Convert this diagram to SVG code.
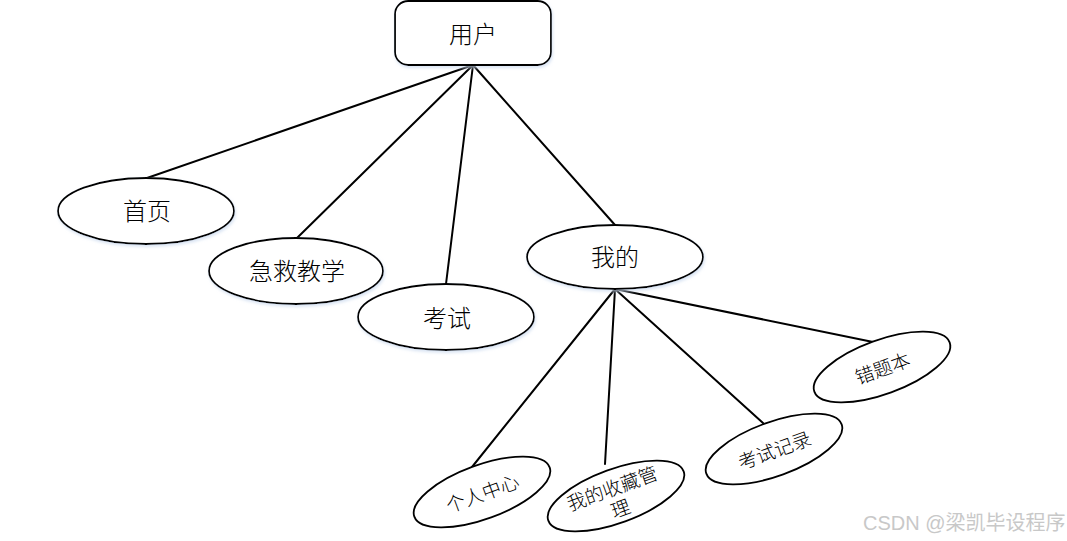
<svg xmlns="http://www.w3.org/2000/svg" width="1067" height="541" viewBox="0 0 1067 541">
<style>
.shape{fill:#fff;stroke:#000;stroke-width:1.8}
.conn line{stroke:#000;stroke-width:2;stroke-linecap:round}
.t{font-family:"Noto Sans CJK SC","Noto Sans",sans-serif;fill:#000;text-anchor:middle;dominant-baseline:central;font-weight:300}
.big{font-size:24px}
.small{font-size:19px}
.wm{font-family:"Liberation Sans","Noto Sans CJK SC",sans-serif;font-size:20px;fill:#c8c8c8}
</style>
<defs>
<filter id="glow" x="-10%" y="-20%" width="120%" height="140%">
<feDropShadow dx="1" dy="2" stdDeviation="1.5" flood-color="#c9d9ee" flood-opacity="0.7"/>
</filter>
</defs>
<rect width="1067" height="541" fill="#fff"/>
<g class="conn" id="connectors">
<line x1="473" y1="65" x2="147" y2="178"/>
<line x1="473" y1="65" x2="297" y2="238"/>
<line x1="473" y1="65" x2="446" y2="284"/>
<line x1="473" y1="65" x2="615" y2="225"/>
<line x1="615" y1="289" x2="472" y2="467"/>
<line x1="615" y1="289" x2="605" y2="464"/>
<line x1="615" y1="289" x2="763" y2="423"/>
<line x1="615" y1="289" x2="873" y2="342"/>
</g>
<g id="n-user">
<rect class="shape" filter="url(#glow)" x="395" y="1" width="156" height="64" rx="13"/>
<text class="t big" x="473" y="32">用户</text>
</g>
<g id="n-home">
<ellipse class="shape" filter="url(#glow)" cx="146" cy="211" rx="88" ry="33"/>
<text class="t big" x="147" y="209">首页</text>
</g>
<g id="n-teach">
<ellipse class="shape" filter="url(#glow)" cx="296" cy="271" rx="87" ry="33"/>
<text class="t big" x="297" y="269">急救教学</text>
</g>
<g id="n-exam">
<ellipse class="shape" filter="url(#glow)" cx="446" cy="317" rx="88" ry="33"/>
<text class="t big" x="447" y="316">考试</text>
</g>
<g id="n-mine">
<ellipse class="shape" filter="url(#glow)" cx="615" cy="257" rx="88" ry="32"/>
<text class="t big" x="615" y="255">我的</text>
</g>
<g id="n-center" transform="translate(482,492) rotate(-20)">
<ellipse class="shape" cx="0" cy="0" rx="72" ry="27"/>
<text class="t small" x="0" y="0">个人中心</text>
</g>
<g id="n-fav" transform="translate(616,496) rotate(-20)">
<ellipse class="shape" cx="0" cy="0" rx="72" ry="27"/>
<text class="t small" x="-1" y="-10">我的收藏管</text>
<text class="t small" x="0" y="12">理</text>
</g>
<g id="n-record" transform="translate(774,449) rotate(-20)">
<ellipse class="shape" cx="0" cy="0" rx="72" ry="27"/>
<text class="t small" x="0" y="0">考试记录</text>
</g>
<g id="n-wrong" transform="translate(882,367) rotate(-20)">
<ellipse class="shape" cx="0" cy="0" rx="72" ry="27"/>
<text class="t small" x="0" y="0">错题本</text>
</g>
<text class="wm" x="863" y="530">CSDN @梁凯毕设程序</text>
</svg>
